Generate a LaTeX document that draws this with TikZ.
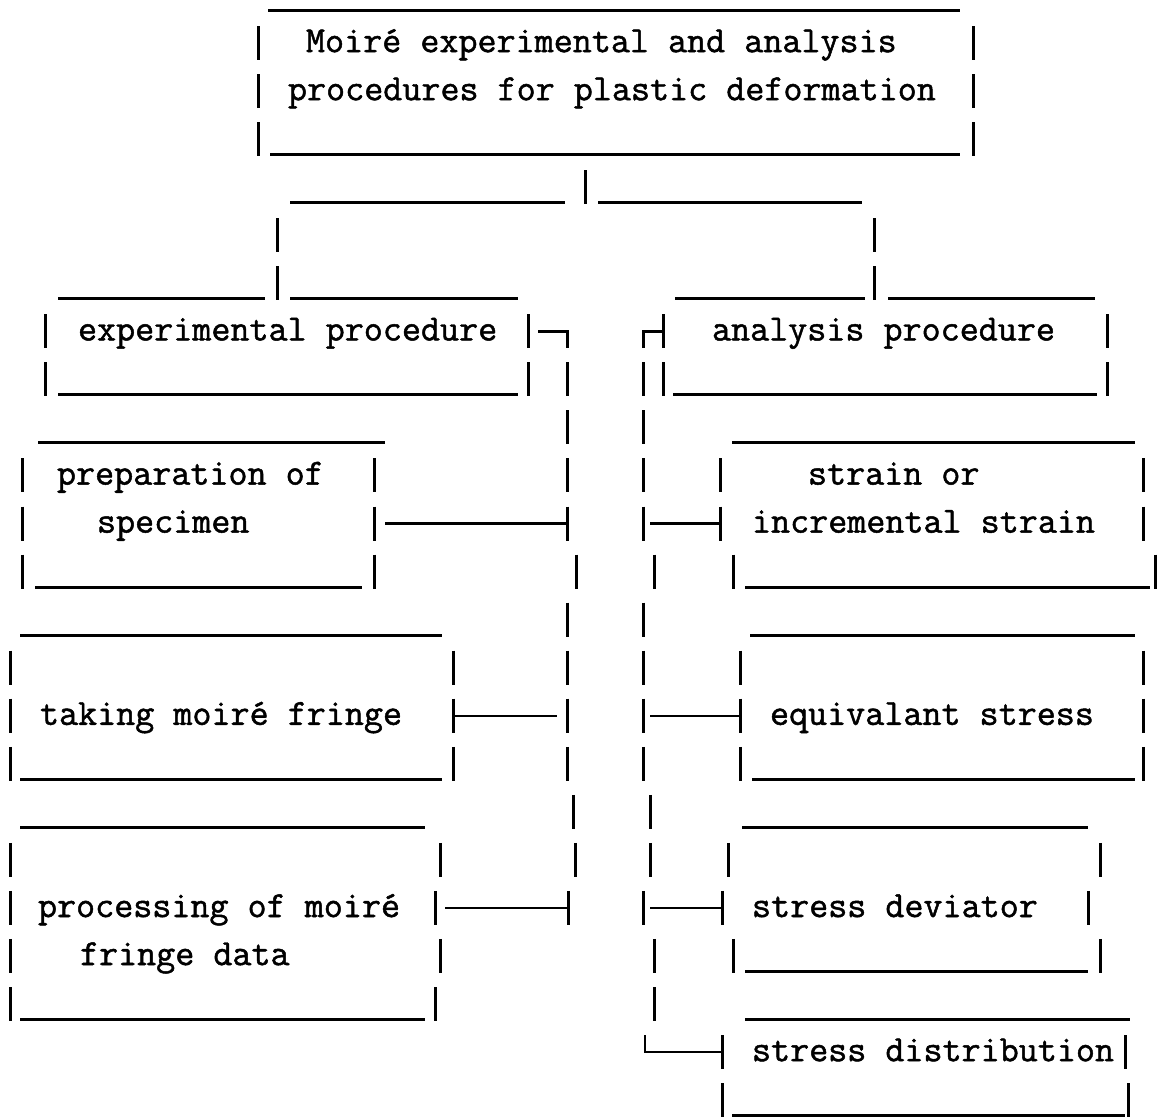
\documentclass[tikz,border=0pt]{standalone}
\usepackage{fontspec}
\newfontfamily\cour[FakeBold=1.3]{Latin Modern Mono}
\tikzset{
  bar/.style={line width=3pt, line cap=butt},
  conn/.style={line width=2.2pt, line cap=butt},
  lbl/.style={font=\cour\fontsize{37}{44}\selectfont, anchor=mid west, inner sep=0pt, outer sep=0pt}
}
\newcommand\ry[1]{43+48.05*(#1)}
\newcommand\ty[1]{50+48.05*(#1)}
\newcommand\vb[2]{\draw[bar] (#1,{43+48.05*(#2)-17}) -- ++(0,34);}
\newcommand\hu[3]{\draw[bar] (#1,{58.5+48.05*(#3)}) -- (#2,{58.5+48.05*(#3)});}
\newcommand\hm[3]{\draw[conn] (#1,{43+48.05*(#3)}) -- (#2,{43+48.05*(#3)});}
\begin{document}
\begin{tikzpicture}[x=1pt,y=-1pt]
\useasboundingbox (0,0) rectangle (1165,1119);
% ---------- text nodes ----------
\node[lbl] (t0) at (306,{\ty{0}}) {Moiré experimental and analysis};
\node[lbl] (t1) at (288,{\ty{1}}) {procedures for plastic deformation};
\node[lbl] (exp) at (78,{\ty{6}}) {experimental procedure};
\node[lbl] (ana) at (712,{\ty{6}}) {analysis procedure};
\node[lbl] (prep1) at (57,{\ty{9}}) {preparation of};
\node[lbl] (prep2) at (97,{\ty{10}}) {specimen};
\node[lbl] (str1) at (808,{\ty{9}}) {strain or};
\node[lbl] (str2) at (752,{\ty{10}}) {incremental strain};
\node[lbl] (take) at (40,{\ty{14}}) {taking moiré fringe};
\node[lbl] (equ) at (770,{\ty{14}}) {equivalant stress};
\node[lbl] (proc1) at (38,{\ty{18}}) {processing of moiré};
\node[lbl] (proc2) at (80,{\ty{19}}) {fringe data};
\node[lbl] (dev) at (752,{\ty{18}}) {stress deviator};
\node[lbl] (dist) at (752,{\ty{21}}) {stress distribution};
% ---------- vertical bars ----------
\foreach \x/\r in {258/0,973/0,258/1,973/1,258/2,973/2,
  585/3, 277/4,874/4, 277/5,874/5,
  45/6,528/6,663/6,1107/6,
  45/7,528/7,567/7,643/7,663/7,1107/7,
  567/8,643/8,
  22/9,374/9,567/9,643/9,720/9,1143/9,
  22/10,374/10,567/10,643/10,720/10,1143/10,
  22/11,374/11,576/11,654/11,733/11,1155/11,
  567/12,643/12,
  10/13,453/13,567/13,643/13,740/13,1143/13,
  10/14,453/14,567/14,643/14,740/14,1143/14,
  10/15,453/15,567/15,643/15,740/15,1143/15,
  573/16,650/16,
  10/17,440/17,575/17,650/17,728/17,1100/17,
  10/18,435/18,568/18,643/18,722/18,1088/18,
  10/19,440/19,654/19,733/19,1100/19,
  10/20,435/20,654/20,
  722/21,1125/21,
  722/22,1128/22}
  {\vb{\x}{\r}}
% ---------- underscores ----------
\foreach \a/\b/\r in {268/960/-1, 270/960/2,
  290/565/3, 598/862/3,
  58/265/5, 290/518/5, 675/865/5, 888/1095/5,
  58/518/7, 673/1097/7,
  38/385/8, 732/1135/8,
  35/362/11, 745/1150/11,
  20/442/12, 750/1135/12,
  20/442/15, 752/1135/15,
  20/425/16, 742/1088/16,
  745/1088/19,
  20/425/20, 745/1130/20,
  732/1125/22}
  {\hu{\a}{\b}{\r}}
% ---------- connectors (box-drawing strokes) ----------
\coordinate (ecorner) at (567,{\ry{6}});
\coordinate (acorner) at (643,{\ry{6}});
\coordinate (lcorner) at (645,{\ry{21}});
\draw[bar] (538,{\ry{6}}) -- (ecorner) -- (567,{\ry{6}+17});
\draw[bar] (663,{\ry{6}}) -- (acorner) -- (643,{\ry{6}+17});
\hm{385}{567}{10}
\hm{650}{720}{10}
\hm{453}{557}{14}
\hm{650}{740}{14}
\hm{445}{568}{18}
\hm{650}{722}{18}
\draw[conn] (645,{\ry{21}-17}) -- (lcorner) -- (722,{\ry{21}});
\end{tikzpicture}
\end{document}
